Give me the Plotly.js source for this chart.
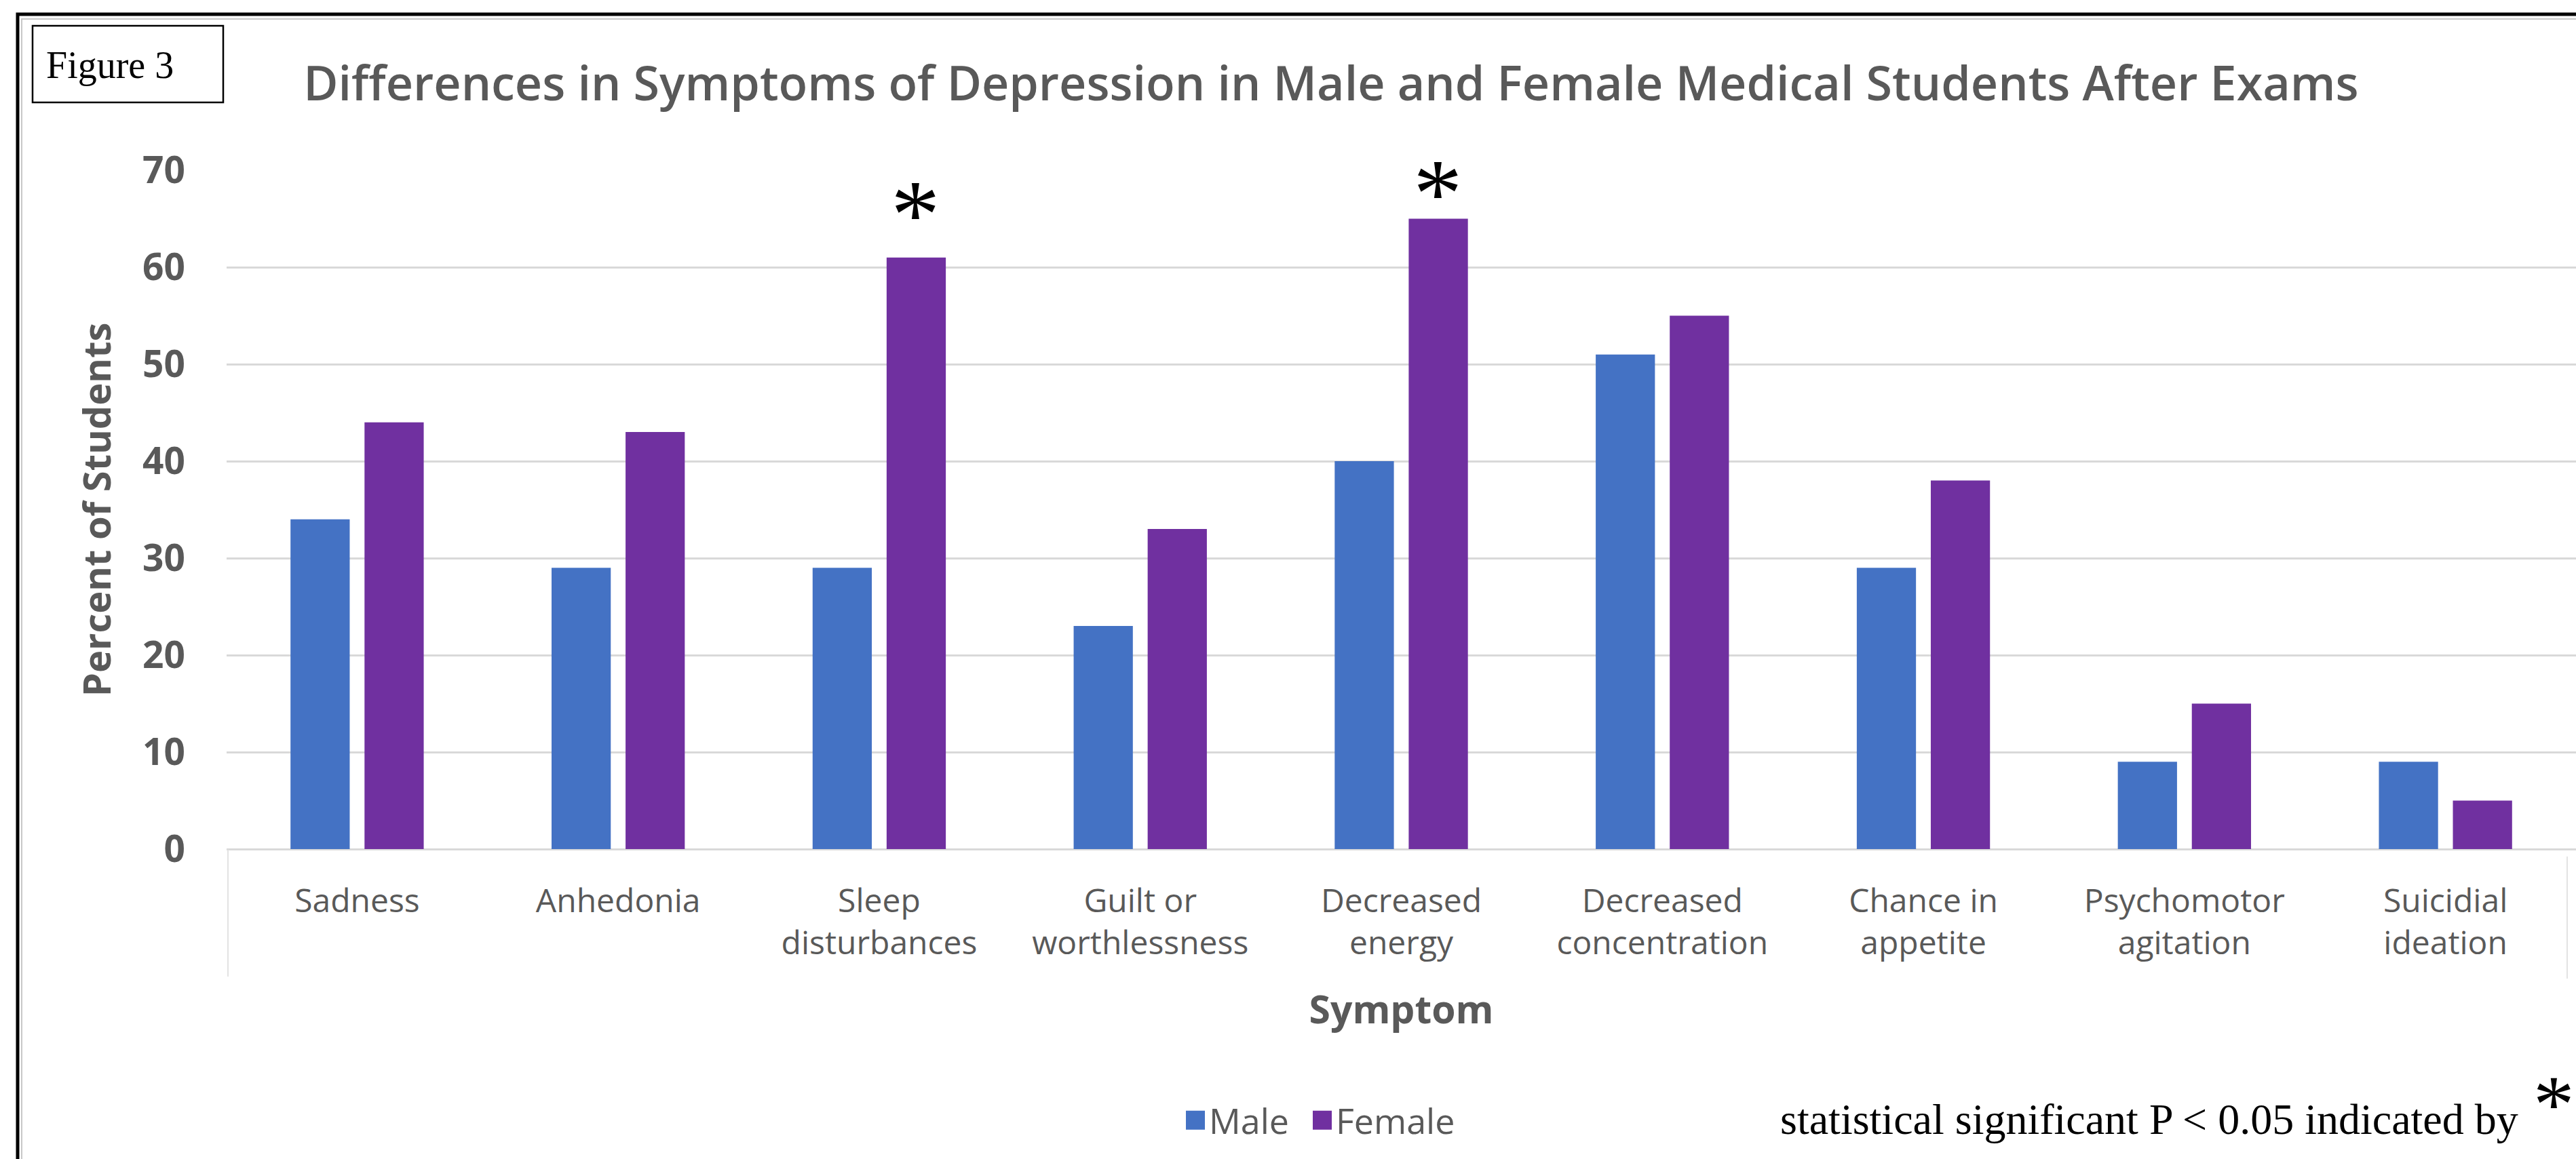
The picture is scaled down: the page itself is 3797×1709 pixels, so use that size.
<!DOCTYPE html>
<html>
<head>
<meta charset="utf-8">
<script src="https://cdn.plot.ly/plotly-3.0.1.min.js"></script>
<style>
  html, body { margin: 0; padding: 0; background: #ffffff; }
  #chart { width: 3797px; height: 1709px; }
</style>
</head>
<body>
<div id="chart"></div>
<script>
// ---- data ----
const categories = ["Sadness", "Anhedonia", "Sleep disturbances", "Guilt or worthlessness",
  "Decreased energy", "Decreased concentration", "Chance in appetite",
  "Psychomotor agitation", "Suicidial ideation"];
const tickLabels = ["Sadness", "Anhedonia", "Sleep<br>disturbances", "Guilt or<br>worthlessness",
  "Decreased<br>energy", "Decreased<br>concentration", "Chance in<br>appetite",
  "Psychomotor<br>agitation", "Suicidial<br>ideation"];
const maleValues = [34, 29, 29, 23, 40, 51, 29, 9, 9];
const femaleValues = [44, 43, 61, 33, 65, 55, 38, 15, 5];
const yTicks = [0, 10, 20, 30, 40, 50, 60, 70];
const significantIdx = [2, 4];

// ---- layout helpers (pixel -> paper) ----
const W = 3797, H = 1709;
const L = 334, R = 3797, T = 251, B = 1252;
const px = x => (x - L) / (R - L);
const py = y => (B - y) / (B - T);

const grey = "#595959";
const sans = "Open Sans, Noto Sans, sans-serif";
const serif = "Liberation Serif, Times New Roman, serif";

const traces = [
  { type: "bar", name: "Male", x: categories, y: maleValues, legendwidth: 142,
    marker: { color: "#4472C4" }, hoverinfo: "y" },
  { type: "bar", name: "Female", x: categories, y: femaleValues, legendwidth: 200,
    marker: { color: "#7030A0" }, hoverinfo: "y" }
];

const starShifts = [64, 38];
const annotations = significantIdx.map((i, k) => ({
  x: categories[i], y: femaleValues[i], xref: "x", yref: "y",
  xshift: 54, yshift: starShifts[k],
  text: "*", showarrow: false, xanchor: "center", yanchor: "middle",
  font: { family: serif, size: 145, color: "#000000" }
}));
annotations.push({
  x: px(2622), y: py(1650), xref: "paper", yref: "paper",
  text: "statistical significant P &lt; 0.05 indicated by", showarrow: false,
  xanchor: "left", yanchor: "middle",
  font: { family: serif, size: 64, color: "#000000" }
});
annotations.push({
  x: px(3797), y: py(1628), xref: "paper", yref: "paper",
  text: "*", showarrow: false, xanchor: "right", yanchor: "middle",
  font: { family: serif, size: 121, color: "#000000" }
});
annotations.push({
  x: px(66), y: py(96), xref: "paper", yref: "paper",
  text: "Figure 3", showarrow: false, xanchor: "left", yanchor: "middle",
  font: { family: serif, size: 56, color: "#000000" }
});

const shapes = [
  // outer frame (black) and inner chart-area border (light grey)
  { type: "rect", xref: "paper", yref: "paper", x0: px(26), x1: px(3830), y0: py(21), y1: py(1780),
    line: { color: "#000000", width: 5 }, fillcolor: "rgba(0,0,0,0)", layer: "above" },
  { type: "rect", xref: "paper", yref: "paper", x0: px(32), x1: px(3830), y0: py(28), y1: py(1780),
    line: { color: "#C8C8C8", width: 2 }, fillcolor: "rgba(0,0,0,0)", layer: "above" },
  // Figure 3 box
  { type: "rect", xref: "paper", yref: "paper", x0: px(48), x1: px(329), y0: py(38), y1: py(151),
    line: { color: "#000000", width: 2.5 }, fillcolor: "rgba(0,0,0,0)" },
  // faint category-axis boundary lines
  { type: "line", xref: "paper", yref: "paper", x0: px(336), x1: px(336), y0: py(1253), y1: py(1440),
    line: { color: "#E3E3E3", width: 2 } },
  { type: "line", xref: "paper", yref: "paper", x0: px(3784), x1: px(3784), y0: py(1263), y1: py(1443),
    line: { color: "#E3E3E3", width: 2 } }
];

const layout = {
  width: W, height: H,
  paper_bgcolor: "#ffffff", plot_bgcolor: "#ffffff",
  margin: { l: L, r: W - R, t: T, b: H - B, pad: 0 },
  title: {
    text: "Differences in Symptoms of Depression in Male and Female Medical Students After Exams",
    x: 1962 / W, xanchor: "center", xref: "container",
    y: 1 - 123 / H, yanchor: "middle", yref: "container",
    font: { family: sans, size: 70, weight: 600, color: grey }
  },
  barmode: "group", bargap: 0.433, bargroupgap: 0.2,
  xaxis: {
    type: "category", tickmode: "array", tickvals: categories, ticktext: tickLabels,
    ticks: "", showgrid: false, showline: false, zeroline: false,
    ticklabelstandoff: 44,
    tickfont: { family: sans, size: 48, color: grey },
    title: { text: "Symptom", standoff: 48, font: { family: sans, size: 57, weight: 700, color: grey } }
  },
  yaxis: {
    range: [0, 70], tickmode: "array", tickvals: yTicks,
    ticks: "", showline: false, showgrid: true, gridcolor: "#D9D9D9", gridwidth: 3,
    zeroline: true, zerolinecolor: "#D9D9D9", zerolinewidth: 3,
    ticklabelstandoff: 60,
    tickfont: { family: sans, size: 55, weight: 700, color: grey },
    title: { text: "Percent of Students", standoff: 28, font: { family: sans, size: 56, weight: 700, color: grey } }
  },
  showlegend: true,
  legend: {
    orientation: "h", x: px(1742), xanchor: "left", y: py(1652), yanchor: "middle",
    entrywidthmode: "pixels",
    font: { family: sans, size: 52, color: grey }, itemclick: false, itemdoubleclick: false
  },
  annotations: annotations,
  shapes: shapes
};

Plotly.newPlot("chart", traces, layout, { staticPlot: true, displayModeBar: false }).then(gd => {
  gd.querySelectorAll(".legend .legendpoints path").forEach(p => {
    p.setAttribute("d", "M14,14H-14V-14H14Z");
  });
});
</script>
</body>
</html>
